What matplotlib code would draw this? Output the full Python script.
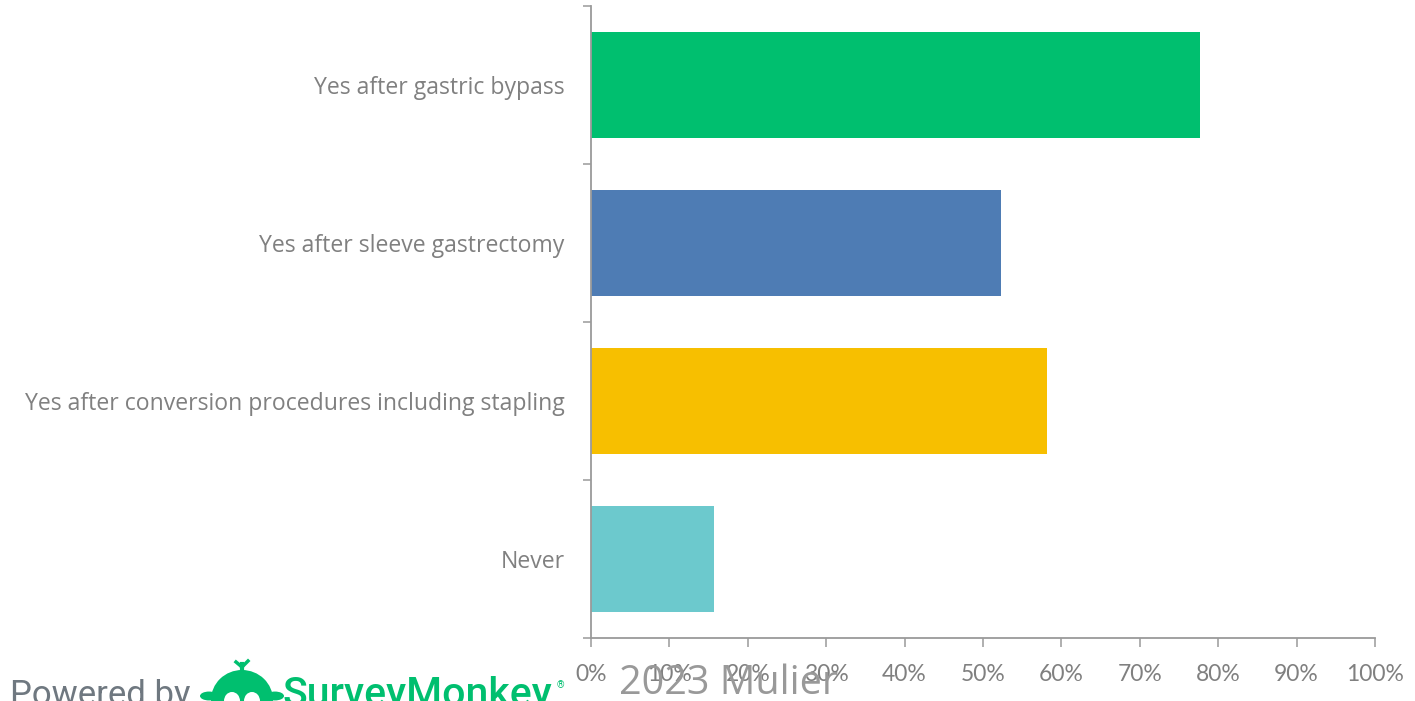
import matplotlib
matplotlib.use("Agg")
import matplotlib.pyplot as plt
from matplotlib.patches import Ellipse, Circle
from matplotlib.ticker import FixedLocator, PercentFormatter

# Survey answers (share of respondents, %)
categories = [
    "Yes after gastric bypass",
    "Yes after sleeve gastrectomy",
    "Yes after conversion procedures including stapling",
    "Never",
]
values = [77.7, 52.3, 58.2, 15.7]
bar_colors = ["#00BF6F", "#4E7CB4", "#F7BF00", "#6CC9CD"]
x_ticks = list(range(0, 101, 10))

W, H = 1415, 701
fig = plt.figure(figsize=(W / 100, H / 100), dpi=100)
ax = fig.add_axes([591 / W, 1 - 638 / H, (1375 - 591) / W, (638 - 6) / H])

ypos = list(range(len(categories)))
ax.barh(ypos, values, height=0.667, color=bar_colors, zorder=2)

ax.set_xlim(0, 100)
ax.set_ylim(len(categories) - 0.5, -0.5)

for side in ("top", "right"):
    ax.spines[side].set_visible(False)
for side in ("left", "bottom"):
    ax.spines[side].set_color("#9A9A9A")
    ax.spines[side].set_linewidth(1.3)

ax.xaxis.set_major_locator(FixedLocator(x_ticks))
ax.xaxis.set_major_formatter(PercentFormatter(decimals=0))
ax.tick_params(axis="x", which="major", direction="out", length=6.5, width=1.1,
               color="#9A9A9A", pad=12, labelsize=16.5, labelcolor="#808080")
for lbl in ax.get_xticklabels():
    lbl.set_fontfamily("Lato")

# category boundaries carry the tick marks, category centres carry the labels
ax.yaxis.set_major_locator(FixedLocator([i - 0.5 for i in range(len(categories) + 1)]))
ax.yaxis.set_major_formatter(plt.NullFormatter())
ax.yaxis.set_minor_locator(FixedLocator(ypos))
ax.set_yticklabels(categories, minor=True)
ax.tick_params(axis="y", which="major", direction="out", length=6, width=1.1, color="#9A9A9A")
ax.tick_params(axis="y", which="minor", length=0, pad=19, labelsize=16.6, labelcolor="#808080")
for lbl in ax.get_yticklabels(minor=True):
    lbl.set_fontfamily("Open Sans")

# footer: "Powered by" badge
fig.text(10 / W, 1 - 705 / H, "Powered by", fontsize=25, color="#6F7880",
         family="Roboto", ha="left", va="baseline")
fig.text(283 / W, 1 - 706 / H, "SurveyMonkey", fontsize=29.5, color="#00BF6F",
         family="Roboto", weight="medium", ha="left", va="baseline")
fig.text(557 / W, 1 - 688 / H, "®", fontsize=7, color="#00BF6F", family="Roboto",
         ha="left", va="baseline")

# monkey head icon
def fx(px):
    return px / W

def fy(py):
    return 1 - py / H

green = "#00BF6F"
icon = [
    Ellipse((fx(242), fy(700)), 62 / W, 60 / H),
    Circle((fx(209), fy(696)), 9 / W),
    Circle((fx(275), fy(696)), 9 / W),
]
for p in icon:
    p.set_facecolor(green)
    p.set_edgecolor("none")
    p.set_transform(fig.transFigure)
    fig.patches.append(p)
for cx in (232, 252):
    p = Ellipse((fx(cx), fy(701)), 16 / W, 18 / H, facecolor="white",
                edgecolor="none", transform=fig.transFigure)
    fig.patches.append(p)
fig.lines.append(plt.Line2D([fx(242), fx(242)], [fy(672), fy(664)], color=green, lw=3,
                            transform=fig.transFigure))
fig.lines.append(plt.Line2D([fx(242), fx(248)], [fy(667), fy(661)], color=green, lw=2.5,
                            transform=fig.transFigure))
fig.lines.append(plt.Line2D([fx(242), fx(236)], [fy(667), fy(662)], color=green, lw=2.5,
                            transform=fig.transFigure))

# attribution
fig.text(729 / W, 1 - 694 / H, "2023 Mulier", fontsize=28.5, color="#999999",
         family="Open Sans", ha="center", va="baseline")

fig.savefig("out.png", dpi=100)
